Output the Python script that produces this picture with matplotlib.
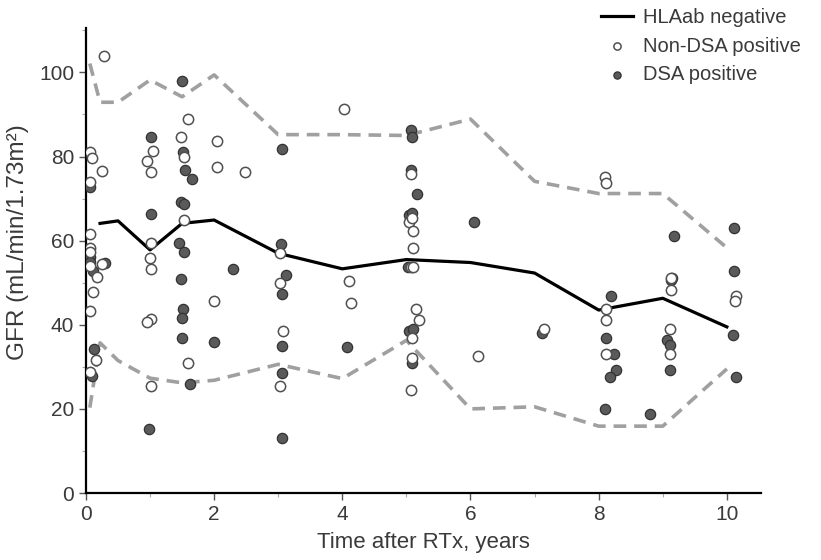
import matplotlib
matplotlib.use("Agg")
import matplotlib.pyplot as plt
from matplotlib.ticker import MultipleLocator

plt.rcParams['font.family'] = ['Liberation Sans', 'DejaVu Sans']

# median line (HLAab negative) and dashed range
line_x = [0.22, 0.5, 1.0, 1.5, 2.0, 3.0, 4.0, 5.0, 6.0, 7.0, 8.0, 9.0, 10.0]
line_y = [64.1, 64.7, 57.8, 64.1, 64.9, 57.0, 53.3, 55.5, 54.8, 52.3, 43.5, 46.3, 39.5]

upper_x = [0.06, 0.22, 0.5, 1.0, 1.5, 2.0, 3.0, 4.0, 5.0, 6.0, 7.0, 8.0, 9.0, 10.0]
upper_y = [102.1, 92.9, 92.9, 98.2, 94.2, 99.4, 85.2, 85.2, 85.0, 88.9, 74.1, 71.2, 71.2, 58.3]

lower_x = [0.06, 0.22, 0.5, 1.0, 1.5, 2.0, 3.0, 4.0, 5.0, 6.0, 7.0, 8.0, 9.0, 10.0]
lower_y = [20.3, 35.7, 31.5, 27.3, 26.2, 26.8, 30.6, 27.2, 36.3, 20.0, 20.5, 15.9, 15.9, 29.5]

# Non-DSA positive (open circles)
nondsa_x = [0.28, 0.07, 0.09, 0.25, 0.07, 0.07, 0.07, 0.06, 0.07, 0.25, 0.18, 0.11, 0.07, 0.16, 0.07,
            0.96, 1.04, 1.02, 1.02, 1.0, 1.02, 1.02, 0.96, 1.02,
            1.49, 1.59, 1.53, 1.53, 1.59,
            2.05, 2.04, 2.0, 2.48,
            3.02, 3.02, 3.08, 3.02,
            4.03, 4.1, 4.14,
            5.07, 5.04, 5.08, 5.10, 5.10, 5.07, 5.10, 5.15, 5.2, 5.08, 5.08, 5.07,
            6.12, 7.15,
            8.1, 8.12, 8.12, 8.12, 8.12,
            9.13, 9.11, 9.11, 9.13,
            10.15, 10.13]
nondsa_y = [103.8, 81.0, 79.7, 76.5, 74.0, 61.6, 58.3, 57.3, 53.9, 54.4, 51.4, 47.8, 43.2, 31.6, 28.8,
            79.0, 81.2, 76.4, 59.5, 55.8, 53.3, 41.3, 40.6, 25.5,
            84.7, 88.9, 80.0, 64.9, 30.9,
            83.8, 77.4, 45.7, 76.4,
            57.0, 49.9, 38.5, 25.5,
            91.4, 50.3, 45.2,
            75.8, 64.4, 65.5, 62.2, 58.2, 53.8, 53.8, 43.7, 41.1, 36.8, 32.1, 24.5,
            32.6, 39.1,
            75.2, 73.7, 43.7, 41.2, 33.1,
            48.3, 38.9, 33.1, 51.2,
            46.8, 45.7]

# DSA positive (filled circles)
dsa_x = [0.07, 0.07, 0.07, 0.11, 0.30, 0.12, 0.09,
         1.02, 1.02, 0.98,
         1.50, 1.52, 1.54, 1.66, 1.49, 1.53, 1.45, 1.53, 1.49, 1.51, 1.50, 1.50, 1.63,
         2.0, 2.29,
         3.06, 3.04, 3.12, 3.06, 3.06, 3.06, 3.06,
         4.08,
         5.07, 5.08, 5.07, 5.16, 5.04, 5.09, 5.02, 5.04, 5.11, 5.08,
         6.05, 7.12,
         8.19, 8.12, 8.24, 8.27, 8.17, 8.10, 8.80,
         9.17, 9.14, 9.13, 9.07, 9.11, 9.11,
         10.11, 10.11, 10.09, 10.15]
dsa_y = [72.7, 56.0, 55.0, 52.8, 54.8, 34.3, 27.8,
         84.7, 66.4, 15.3,
         97.9, 81.0, 76.9, 74.7, 69.3, 68.7, 59.5, 57.3, 50.8, 43.7, 41.6, 36.8, 26.0,
         35.9, 53.3,
         81.8, 59.3, 51.8, 47.4, 34.9, 28.6, 13.0,
         34.7,
         86.4, 84.7, 76.9, 71.0, 66.0, 66.6, 53.8, 38.6, 38.9, 30.9,
         64.5, 38.1,
         46.8, 36.8, 33.1, 29.3, 27.6, 20.0, 18.9,
         61.0, 51.2, 50.6, 36.3, 35.1, 29.3,
         63.0, 52.8, 37.6, 27.6]

x_ticks = [0, 2, 4, 6, 8, 10]
y_ticks = [0, 20, 40, 60, 80, 100]

text_col = '#3a3a3a'

fig = plt.figure(figsize=(8.21, 5.6), dpi=100)
ax = fig.add_axes([0.1047, 0.1196, 0.822, 0.830])

ax.plot(upper_x, upper_y, color='#a0a0a0', lw=2.6, dashes=(3.5, 2.2), zorder=2)
ax.plot(lower_x, lower_y, color='#a0a0a0', lw=2.6, dashes=(3.5, 2.2), zorder=2)
ax.plot(line_x, line_y, color='black', lw=2.3, zorder=3, label='HLAab negative')

ax.scatter(dsa_x, dsa_y, s=55, facecolor='#5a5a5a', edgecolor='#333333', lw=0.9,
           zorder=4, label='DSA positive')
ax.scatter(nondsa_x, nondsa_y, s=55, facecolor='white', edgecolor='#505050', lw=1.1,
           zorder=5, label='Non-DSA positive')

ax.set_xlim(0, 10.53)
ax.set_ylim(0, 110.5)
ax.set_xticks(x_ticks)
ax.set_yticks(y_ticks)
ax.xaxis.set_minor_locator(MultipleLocator(1))
ax.yaxis.set_minor_locator(MultipleLocator(10))
ax.tick_params(which='major', length=5, width=1, labelsize=15, labelcolor=text_col, color='#555555')
ax.tick_params(which='minor', length=3, width=0.8, color='#aaaaaa')

for s in ['top', 'right']:
    ax.spines[s].set_visible(False)
for s in ['left', 'bottom']:
    ax.spines[s].set_linewidth(1.6)

ax.set_xlabel('Time after RTx, years', fontsize=16, color=text_col, labelpad=6)
ax.set_ylabel('GFR (mL/min/1.73m²)', fontsize=17.5, color=text_col)
ax.yaxis.set_label_coords(-0.085, 0.54)

h, l = ax.get_legend_handles_labels()
order = [0, 2, 1]
leg = ax.legend([h[i] for i in order], [l[i] for i in order], loc='upper left',
                bbox_to_anchor=(0.722, 1.0), bbox_transform=fig.transFigure,
                frameon=False, fontsize=14.5, handlelength=1.6, handletextpad=0.5,
                labelspacing=0.48, borderaxespad=0, markerscale=0.7)
for t in leg.get_texts():
    t.set_color(text_col)

fig.savefig('out.png', dpi=100)
